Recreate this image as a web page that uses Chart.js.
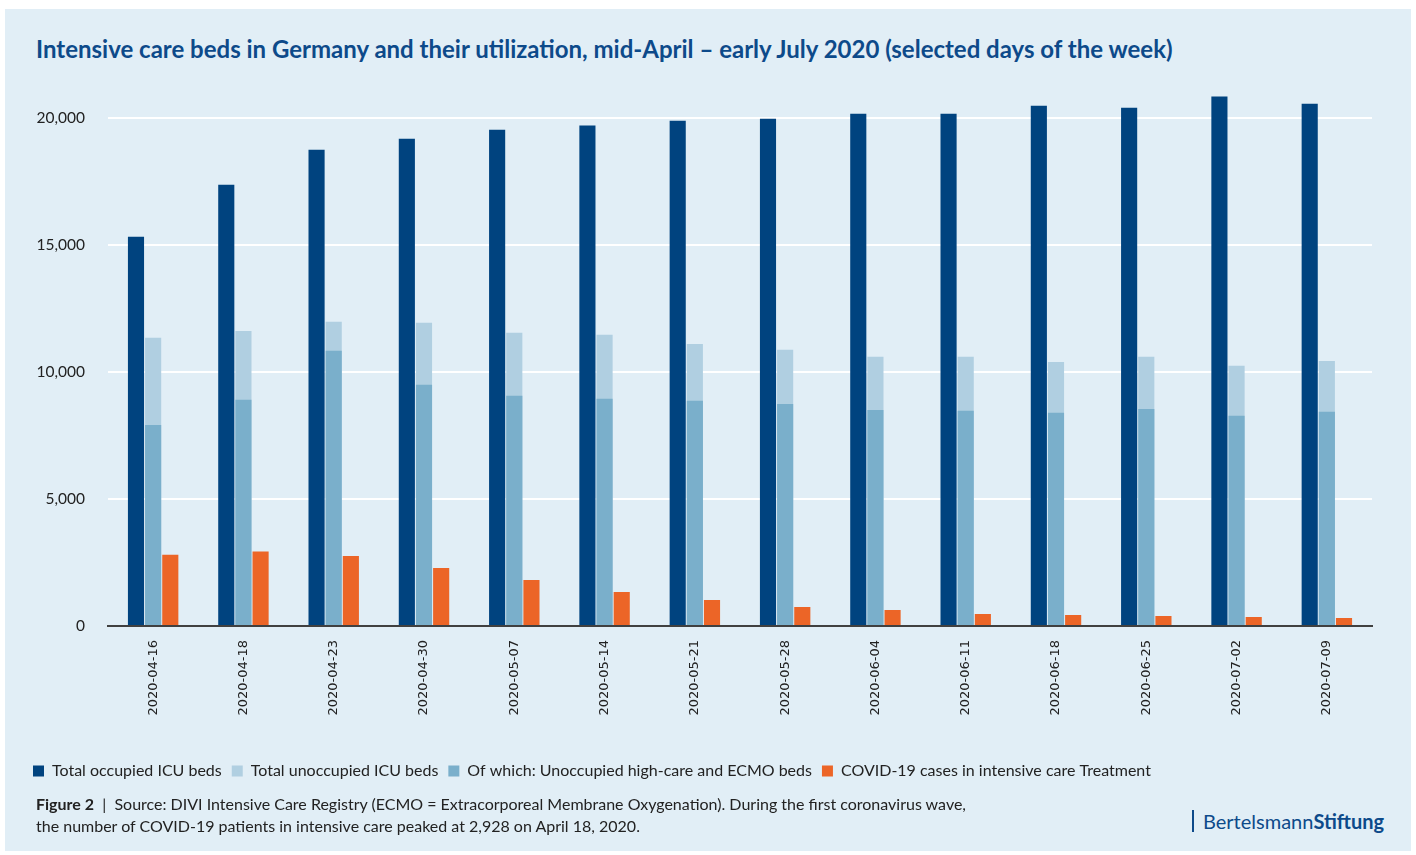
<!DOCTYPE html>
<html>
<head>
<meta charset="utf-8">
<script src="https://cdn.jsdelivr.net/npm/chart.js@4.4.1/dist/chart.umd.min.js"></script>
<style>
  html, body { margin: 0; padding: 0; background: #ffffff; }
  body { width: 1416px; height: 855px; position: relative; overflow: hidden; font-family: Lato, sans-serif; }
  #panel { position: absolute; left: 5px; top: 9px; width: 1406px; height: 842px; background: #e1eef6; }
  #titel { position: absolute; left: 36px; top: 34px; font-size: 24px; font-weight: bold; color: #0d4a8a; white-space: nowrap; }
  #wrap { position: absolute; left: 5px; top: 60px; width: 1405px; height: 740px; }
  #fuss { position: absolute; left: 36px; top: 793px; font-size: 16px; line-height: 22px; color: #222; }
  #logo { position: absolute; left: 1192px; top: 810px; height: 22px; border-left: 2px solid #0d4a8a; padding-left: 9px; font-size: 20px; line-height: 22px; color: #0d4a8a; }
</style>
</head>
<body>
<div id="panel"></div>
<div id="titel">Intensive care beds in Germany and their utilization, mid-April – early July 2020 (selected days of the week)</div>
<div id="wrap"><canvas id="grafico"></canvas></div>
<div id="fuss"><b>Figure 2</b> &nbsp;|&nbsp; Source: DIVI Intensive Care Registry (ECMO = Extracorporeal Membrane Oxygenation). During the first coronavirus wave,<br>the number of COVID-19 patients in intensive care peaked at 2,928 on April 18, 2020.</div>
<div id="logo">Bertelsmann<b>Stiftung</b></div>
<script>
// Stichtage
var datas = ['2020-04-16','2020-04-18','2020-04-23','2020-04-30','2020-05-07','2020-05-14','2020-05-21',
             '2020-05-28','2020-06-04','2020-06-11','2020-06-18','2020-06-25','2020-07-02','2020-07-09'];

var belegt   = [15320, 17360, 18740, 19170, 19530, 19690, 19880, 19960, 20160, 20160, 20470, 20390, 20830, 20550];
var frei     = [11340, 11610, 11970, 11930, 11540, 11460, 11100, 10870, 10590, 10590, 10390, 10590, 10240, 10430];
var ecmo     = [7910, 8900, 10830, 9490, 9060, 8940, 8860, 8740, 8500, 8470, 8390, 8540, 8270, 8430];
var covid    = [2800, 2928, 2750, 2280, 1810, 1340, 1020, 750, 630, 470, 430, 390, 350, 310];

var yTicks = [0, 5000, 10000, 15000, 20000];

Chart.defaults.font.family = 'Lato';
Chart.defaults.color = '#222';

var grafico = document.getElementById('grafico').getContext('2d');
var chart = new Chart(grafico, {
    type: 'bar',
    data: {
        labels: datas,
        datasets: [
            { label: 'Total occupied ICU beds', data: belegt, backgroundColor: '#00437f', stack: 'a', order: 0 },
            { label: 'Total unoccupied ICU beds', data: frei, backgroundColor: '#b0cfe1', stack: 'b', order: 2 },
            { label: 'Of which: Unoccupied high-care and ECMO beds', data: ecmo, backgroundColor: '#7aafcb', stack: 'b', order: 1 },
            { label: 'COVID-19 cases in intensive care Treatment', data: covid, backgroundColor: '#ec6527', stack: 'c', order: 3 }
        ]
    },
    options: {
        responsive: true,
        maintainAspectRatio: false,
        animation: false,
        categoryPercentage: 0.57,
        barPercentage: 0.94,
        layout: { padding: { left: 18, right: 38, top: 12.6, bottom: 11 } },
        plugins: {
            tooltip: { enabled: false },
            legend: {
                position: 'bottom',
                align: 'start',
                labels: {
                    boxWidth: 11,
                    boxHeight: 11,
                    padding: 10,
                    color: '#222',
                    font: { size: 16 },
                    sort: function (a, b) { return a.datasetIndex - b.datasetIndex; }
                }
            }
        },
        scales: {
            x: {
                stacked: true,
                grid: { display: false },
                border: { display: true, color: '#404040', width: 2 },
                ticks: {
                    minRotation: 90,
                    maxRotation: 90,
                    padding: 6,
                    color: '#222',
                    font: { family: 'DejaVu Sans', size: 13 }
                },
                afterFit: function (scale) { scale.height = 127; }
            },
            y: {
                stacked: false,
                min: 0,
                max: 21000,
                border: { display: false },
                grid: {
                    color: function (ctx) { return ctx.tick && ctx.tick.value === 0 ? 'rgba(0,0,0,0)' : '#ffffff'; },
                    lineWidth: 2,
                    drawTicks: false
                },
                ticks: {
                    padding: 23,
                    color: '#222',
                    font: { size: 15.5 },
                    callback: function (v) { return v.toLocaleString('en-US'); }
                },
                afterBuildTicks: function (scale) {
                    scale.ticks = yTicks.map(function (v) { return { value: v }; });
                },
                afterFit: function (scale) { scale.width = 85; }
            }
        }
    }
});
</script>
</body>
</html>
